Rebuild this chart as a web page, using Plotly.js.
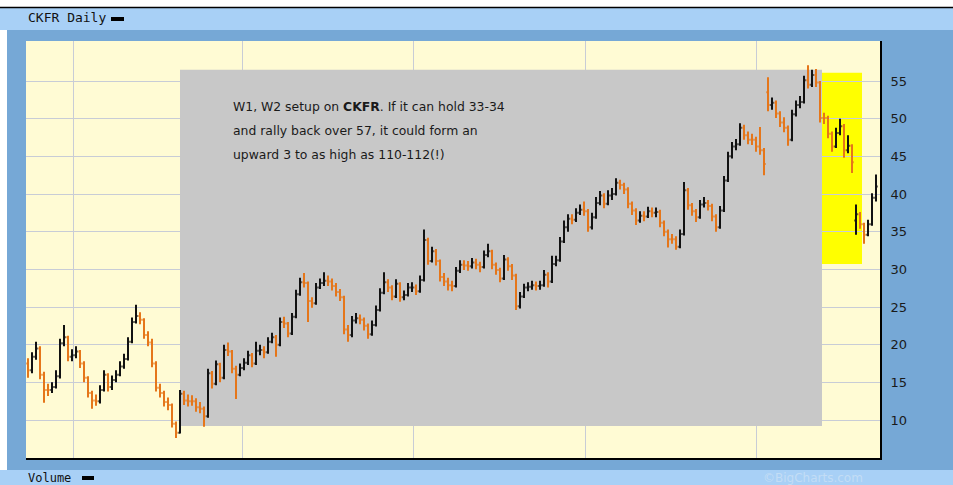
<!DOCTYPE html>
<html>
<head>
<meta charset="utf-8">
<script src="https://cdn.plot.ly/plotly-3.0.1.min.js"></script>
<style>html,body{margin:0;padding:0;background:#ffffff;}#chart{width:953px;height:485px;}</style>
</head>
<body>
<div id="chart"></div>
<script>
// CKFR daily prices, one bar per trading day
const openPrices = [
17.5,16.6,18.4,19.5,16.0,14.0,14.0,14.4,15.8,20.2,
21.0,18.4,18.6,19.1,17.5,15.6,13.6,12.6,12.5,14.0,
16.0,14.4,15.3,16.0,17.1,18.1,20.4,23.0,23.8,23.3,
21.3,20.3,17.5,14.3,13.6,12.4,12.0,9.5,8.3,13.5,
12.6,12.5,12.5,11.7,11.5,10.5,16.2,14.8,17.4,15.6,
19.3,19.1,16.8,16.0,16.9,17.6,18.6,17.5,19.2,19.3,
19.0,20.4,21.0,20.0,23.0,22.8,21.5,23.7,26.7,28.3,
28.2,25.8,25.5,27.6,28.2,28.5,28.4,27.8,27.0,26.3,
22.0,21.3,23.2,23.5,23.3,22.5,21.4,22.6,24.6,26.9,
28.3,27.6,26.4,28.1,26.3,26.6,27.6,27.6,27.1,28.6,
33.9,31.1,32.4,31.1,29.0,28.4,27.9,27.8,29.8,30.6,
30.5,30.4,30.9,30.6,30.3,31.9,32.4,30.6,29.9,28.8,
31.3,30.4,29.2,25.1,26.4,27.6,27.7,27.9,27.8,27.9,
29.3,28.4,30.7,31.2,33.7,35.6,36.7,36.6,37.5,37.9,
37.7,35.6,36.9,38.8,39.8,38.7,39.8,40.0,41.5,41.2,
40.6,38.7,37.8,36.5,37.1,37.0,37.7,37.5,37.6,36.2,
35.0,34.0,34.0,33.0,34.7,40.5,38.5,37.7,36.9,38.6,
38.8,38.4,37.0,35.6,37.8,41.8,45.0,46.3,46.6,48.8,
47.8,47.2,47.2,46.3,45.8,53.5,51.8,52.1,50.7,49.5,
48.8,47.2,50.6,51.8,52.2,55.1,54.5,55.8,54.8,50.1,
50.1,48.0,46.3,48.1,49.0,45.8,46.4,36.5,37.3,36.0,
34.6,36.0,39.5
];
const highPrices = [
18.2,19.0,20.4,19.8,16.4,14.8,15.0,16.6,20.8,22.6,
21.2,19.4,19.8,19.3,17.8,15.8,13.9,13.4,14.6,16.6,
16.2,15.9,16.6,17.8,18.8,21.0,23.6,25.3,24.3,23.5,
21.8,20.8,17.8,14.8,13.9,13.0,12.2,9.8,14.0,13.9,
13.4,13.3,12.9,12.4,11.8,16.8,16.5,17.9,17.6,20.0,
20.3,19.3,17.2,17.5,18.2,19.2,18.9,20.4,20.0,19.8,
21.0,21.6,21.3,23.6,23.7,23.0,24.2,27.3,28.9,29.5,
28.4,26.3,28.2,28.8,29.6,29.2,28.8,28.2,27.4,26.5,
22.6,23.8,24.2,24.0,23.6,22.8,23.2,25.2,27.5,29.6,
28.7,27.9,28.7,28.3,27.2,28.2,28.3,28.0,29.2,35.3,
34.2,33.0,32.7,31.3,29.5,28.9,28.5,30.3,31.2,31.2,
31.1,31.5,31.4,31.0,32.5,33.4,32.6,30.9,30.2,31.9,
31.6,30.7,29.4,27.0,28.1,28.3,28.5,28.4,28.5,29.9,
29.6,31.8,31.8,34.3,36.5,37.3,37.3,38.1,38.6,39.0,
38.0,37.5,39.6,40.4,40.1,40.5,40.8,42.1,41.9,41.5,
40.9,39.0,38.1,37.7,37.7,38.3,38.2,38.2,37.9,36.5,
35.3,34.7,34.4,35.3,41.6,40.8,38.8,38.0,39.2,39.6,
39.2,38.7,37.3,38.4,42.4,45.6,46.9,47.3,49.4,49.2,
48.3,48.0,47.6,48.9,46.1,55.5,52.8,52.4,51.0,50.2,
49.1,51.2,52.4,53.0,55.7,57.1,56.5,56.6,55.0,50.8,
50.4,48.3,48.8,50.0,49.3,47.8,46.6,38.6,37.6,36.2,
36.6,40.1,42.6
];
const lowPrices = [
15.6,16.2,18.0,15.4,12.3,13.2,13.6,14.2,15.5,19.8,
17.8,17.8,18.2,16.9,15.0,13.0,11.5,11.9,12.2,13.8,
13.8,14.0,15.0,15.8,16.8,17.9,20.2,22.8,22.7,20.8,
19.8,17.0,13.8,13.0,11.8,11.3,9.0,7.6,8.2,12.0,
11.8,11.9,11.1,10.9,9.1,10.3,14.2,14.6,15.0,15.4,
18.5,16.2,12.8,15.8,16.6,17.3,17.0,17.3,18.6,18.2,
18.8,20.2,18.4,19.8,22.2,21.0,21.3,23.5,26.5,27.6,
23.0,24.9,25.3,27.4,27.8,27.8,27.2,26.4,25.8,21.4,
20.4,21.0,22.8,22.7,21.9,20.8,21.2,22.4,24.4,26.7,
27.0,25.9,26.2,25.7,25.9,26.4,27.0,26.6,26.9,28.4,
30.6,30.9,30.5,28.4,27.8,27.2,27.1,27.6,29.5,29.9,
29.8,30.1,30.0,29.6,30.1,31.6,30.0,29.3,28.3,28.6,
29.8,28.6,24.6,24.8,26.2,27.1,27.3,27.2,27.3,27.7,
27.6,28.2,30.4,31.0,33.5,35.0,36.0,36.3,37.2,37.1,
35.0,35.3,36.7,38.5,38.1,38.5,39.2,39.8,40.6,40.0,
38.1,37.2,35.9,36.2,36.4,36.8,36.9,36.9,35.6,34.4,
32.9,33.4,32.6,32.8,34.5,37.9,37.1,36.3,36.7,38.2,
37.8,36.4,35.0,35.4,37.6,41.6,44.7,45.8,46.4,47.2,
46.6,46.5,45.6,45.2,42.5,51.0,51.2,50.1,48.9,48.2,
46.4,47.0,50.3,51.4,52.0,54.0,54.2,54.2,49.5,49.3,
47.4,45.6,46.1,47.8,44.8,45.4,42.8,34.6,35.4,33.4,
34.4,35.8,39.0
];
const closePrices = [
16.6,18.4,19.5,16.0,14.0,14.0,14.4,15.8,20.2,21.0,
18.4,18.6,19.1,17.5,15.6,13.6,12.6,12.5,14.0,16.0,
14.4,15.3,16.0,17.1,18.1,20.4,23.0,23.8,23.3,21.3,
20.3,17.5,14.3,13.6,12.4,12.0,9.5,8.3,13.5,12.6,
12.5,12.5,11.7,11.5,10.5,16.2,14.8,17.4,15.6,19.3,
19.1,16.8,16.0,16.9,17.6,18.6,17.5,19.2,19.3,19.0,
20.4,21.0,20.0,23.0,22.8,21.5,23.7,26.7,28.3,28.2,
25.8,25.5,27.6,28.2,28.5,28.4,27.8,27.0,26.3,22.0,
21.3,23.2,23.5,23.3,22.5,21.4,22.6,24.6,26.9,28.3,
27.6,26.4,28.1,26.3,26.6,27.6,27.6,27.1,28.6,33.9,
31.1,32.4,31.1,29.0,28.4,27.9,27.8,29.8,30.6,30.5,
30.4,30.9,30.6,30.3,31.9,32.4,30.6,29.9,28.8,31.3,
30.4,29.2,25.1,26.4,27.6,27.7,27.9,27.8,27.9,29.3,
28.4,30.7,31.2,33.7,35.6,36.7,36.6,37.5,37.9,37.7,
35.6,36.9,38.8,39.8,38.7,39.8,40.0,41.5,41.2,40.6,
38.7,37.8,36.5,37.1,37.0,37.7,37.5,37.6,36.2,35.0,
34.0,34.0,33.0,34.7,40.5,38.5,37.7,36.9,38.6,38.8,
38.4,37.0,35.6,37.8,41.8,45.0,46.3,46.6,48.8,47.8,
47.2,47.2,46.3,45.8,44.0,51.8,52.1,50.7,49.5,48.8,
47.2,50.6,51.8,52.2,55.1,54.5,55.8,54.8,50.1,50.1,
48.0,46.3,48.1,49.0,45.8,46.4,44.2,37.3,36.0,34.6,
36.0,39.5,41.0
];
const priceTicks = [10, 15, 20, 25, 30, 35, 40, 45, 50, 55];
const chartTitle = 'CKFR Daily';
const noteLines = [
  'W1, W2 setup on <b>CKFR</b>. If it can hold 33-34',
  'and rally back over 57, it could form an',
  'upward 3 to as high as 110-112(!)'
];

const dayIndex = closePrices.map((_, i) => i);

// pixel helpers for paper coordinates (plot area: x 26..880, y 41..458)
const PX = px => (px - 26) / 854;
const PY = py => (458 - py) / 417;

const trace = {
  type: 'ohlc',
  x: dayIndex,
  open: openPrices,
  high: highPrices,
  low: lowPrices,
  close: closePrices,
  increasing: {line: {color: '#111111', width: 2}},
  decreasing: {line: {color: '#E5761A', width: 2}},
  tickwidth: 0.4,
  hoverinfo: 'skip',
  showlegend: false
};

const shapes = [
  {type:'rect', xref:'paper', yref:'paper', x0:PX(0), x1:PX(953), y0:PY(7), y1:PY(0), fillcolor:'#ffffff', line:{width:0}, layer:'below'},
  {type:'line', xref:'paper', yref:'paper', x0:PX(0), x1:PX(953), y0:PY(7.5), y1:PY(7.5), line:{color:'#000000', width:1.5}},
  {type:'rect', xref:'paper', yref:'paper', x0:PX(0), x1:PX(953), y0:PY(30), y1:PY(8), fillcolor:'#A8D0F6', line:{width:0}, layer:'below'},
  {type:'rect', xref:'paper', yref:'paper', x0:PX(0), x1:PX(7), y0:PY(470), y1:PY(30), fillcolor:'#ffffff', line:{width:0}, layer:'below'},
  {type:'rect', xref:'paper', yref:'paper', x0:PX(0), x1:PX(953), y0:PY(485), y1:PY(470), fillcolor:'#A8D0F6', line:{width:0}, layer:'below'},
  {type:'rect', xref:'x', yref:'y', x0:38, x1:198.5, y0:9.2, y1:56.5, fillcolor:'#C8C8C8', line:{width:0}, layer:'between'},
  {type:'rect', xref:'x', yref:'y', x0:198.5, x1:208.5, y0:30.7, y1:56.1, fillcolor:'#FFFF00', line:{width:0}, layer:'below'},
  {type:'rect', xref:'paper', yref:'paper', x0:PX(111), x1:PX(124), y0:PY(21), y1:PY(17), fillcolor:'#000000', line:{width:0}},
  {type:'rect', xref:'paper', yref:'paper', x0:PX(82), x1:PX(94), y0:PY(480), y1:PY(476), fillcolor:'#000000', line:{width:0}}
];

const annotations = [
  {xref:'paper', yref:'paper', x:PX(26), y:PY(18), xanchor:'left', yanchor:'middle', showarrow:false,
   text: chartTitle, font:{family:'DejaVu Sans Mono', size:13, color:'#111111'}},
  {xref:'paper', yref:'paper', x:PX(26), y:PY(478), xanchor:'left', yanchor:'middle', showarrow:false,
   text:'Volume', font:{family:'DejaVu Sans Mono', size:12, color:'#111111'}},
  {xref:'paper', yref:'paper', x:PX(813), y:PY(478), xanchor:'center', yanchor:'middle', showarrow:false,
   text:'©BigCharts.com', font:{family:'DejaVu Sans', size:12, color:'#C3DDF5'}}
];
noteLines.forEach((t, k) => {
  annotations.push({xref:'paper', yref:'paper', x:PX(231), y:PY(106 + 24*k), xanchor:'left', yanchor:'middle',
    showarrow:false, text:t, font:{family:'DejaVu Sans', size:12.4, color:'#1a1a1a'}});
});

const layout = {
  width: 953, height: 485,
  margin: {l:26, r:73, t:41, b:27, pad:0},
  paper_bgcolor: '#76A8D6',
  plot_bgcolor: '#FFFBD4',
  showlegend: false,
  xaxis: {
    range: [-0.5, 213],
    rangeslider: {visible: false},
    tickvals: [11.25, 53.5, 96.25, 139.25, 182],
    showticklabels: false,
    ticks: '',
    showgrid: true,
    gridcolor: '#C8CCD6',
    gridwidth: 1,
    zeroline: false,
    showline: true, linecolor: '#000000', linewidth: 2,
    fixedrange: true
  },
  yaxis: {
    side: 'right',
    range: [4.96, 60.31],
    tickvals: priceTicks,
    ticktext: priceTicks.map(String),
    ticks: 'outside', ticklen: 6, tickcolor: 'rgba(0,0,0,0)',
    tickfont: {family:'DejaVu Sans', size:13, color:'#1a1a1a'},
    showgrid: true,
    gridcolor: '#C8CCD6',
    gridwidth: 1,
    zeroline: false,
    showline: true, linecolor: '#000000', linewidth: 2,
    fixedrange: true
  },
  shapes: shapes,
  annotations: annotations
};

Plotly.newPlot('chart', [trace], layout, {displayModeBar:false, staticPlot:true});
</script>
</body>
</html>
